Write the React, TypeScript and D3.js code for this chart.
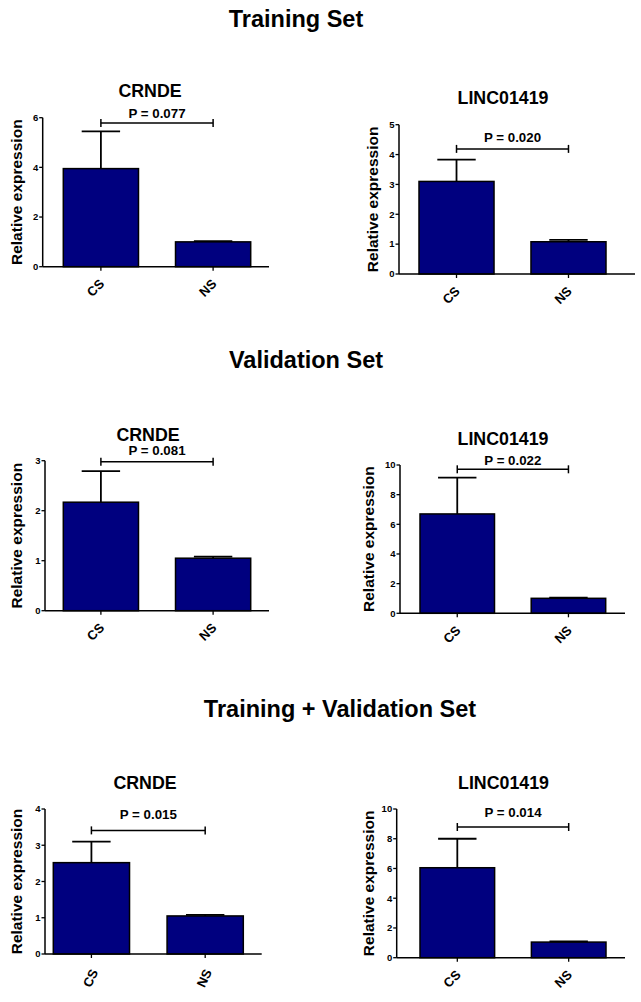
import React from "react";
import * as d3 from "d3";

const categories = ["CS", "NS"];

const sectionTitles = ["Training Set", "Validation Set", "Training + Validation Set"];
const geneNames = ["CRNDE", "LINC01419", "CRNDE", "LINC01419", "CRNDE", "LINC01419"];

// mean relative expression per panel [CS, NS]
const trainCRNDE = [3.95, 1.0];
const trainLINC = [3.1, 1.08];
const validCRNDE = [2.17, 1.05];
const validLINC = [6.7, 1.01];
const allCRNDE = [2.52, 1.05];
const allLINC = [6.05, 1.05];

// upper error (SEM) per panel [CS, NS]
const trainCRNDEErr = [1.5, 0.03];
const trainLINCErr = [0.73, 0.06];
const validCRNDEErr = [0.62, 0.03];
const validLINCErr = [2.45, 0.04];
const allCRNDEErr = [0.58, 0.03];
const allLINCErr = [1.95, 0.05];

const pValues = ["P = 0.077", "P = 0.020", "P = 0.081", "P = 0.022", "P = 0.015", "P = 0.014"];
// bracket level and p-label level in data units
const bracketLevels = [5.79, 4.19, 2.98, 9.71, 3.41, 8.79];
const pLabelLevels = [5.98, 4.42, 3.11, 10.0, 3.72, 9.48];

const yMax = [6, 5, 3, 10, 4, 10];
const yTickStep = [2, 1, 1, 2, 1, 2];

const means = [trainCRNDE, trainLINC, validCRNDE, validLINC, allCRNDE, allLINC];
const errs = [trainCRNDEErr, trainLINCErr, validCRNDEErr, validLINCErr, allCRNDEErr, allLINCErr];

// layout for each panel (pixels)
const layout = [
  { ax: 42.7, axEnd: 269, top: 117.7, bottom: 266.7, b0: 63.3, b1: 250.7, tx: 150, ty: 97, ylx: 22, rot: -45 },
  { ax: 399, axEnd: 635, top: 124.7, bottom: 274, b0: 419, b1: 606, tx: 503, ty: 104, ylx: 378.4, rot: -45 },
  { ax: 45, axEnd: 269, top: 460.7, bottom: 610.7, b0: 63.3, b1: 250.7, tx: 148, ty: 440.7, ylx: 21.7, rot: -45 },
  { ax: 400, axEnd: 625, top: 465, bottom: 613.3, b0: 420, b1: 605.7, tx: 503, ty: 445, ylx: 374, rot: -45 },
  { ax: 45, axEnd: 261.7, top: 809, bottom: 954, b0: 53.3, b1: 243.3, tx: 145, ty: 789, ylx: 21.7, rot: -65 },
  { ax: 396.7, axEnd: 625, top: 809, bottom: 957.7, b0: 420, b1: 606, tx: 503.5, ty: 789, ylx: 373.5, rot: -45 },
];

const sectionPos = [
  { x: 296, y: 27 },
  { x: 306, y: 368 },
  { x: 340, y: 717 },
];

const FONT = "'Liberation Sans', Arial, Helvetica, sans-serif";
const NAVY = "#00007f";

function Panel({ i }: { i: number }) {
  const L = layout[i];
  const y = d3.scaleLinear().domain([0, yMax[i]]).range([L.bottom, L.top]);
  const x = d3.scaleBand<string>().domain(categories).range([L.b0, L.b1]).paddingInner(0.33).paddingOuter(0);
  const ticks = d3.range(0, yMax[i] + 0.001, yTickStep[i]);
  const bw = x.bandwidth();
  const cx = (c: string) => (x(c) as number) + bw / 2;
  const capHalf = 19.2;
  const bY = y(bracketLevels[i]);
  const c0 = cx(categories[0]);
  const c1 = cx(categories[1]);
  const yMid = (L.top + L.bottom) / 2;
  const labOff = L.rot === -45 ? { dx: 4.2, dy: 18 } : { dx: 7, dy: 18 };
  return (
    <g fontFamily={FONT} fontWeight="bold">
      <text x={L.tx} y={L.ty} textAnchor="middle" fontSize={17.8}>{geneNames[i]}</text>
      {/* bars */}
      {categories.map((c, k) => (
        <rect key={c} x={x(c)} y={y(means[i][k])} width={bw} height={L.bottom - y(means[i][k])}
          fill={NAVY} stroke="#000" strokeWidth={1.5} />
      ))}
      {/* error bars (upper only) */}
      {categories.map((c, k) => {
        const top = y(means[i][k] + errs[i][k]);
        return (
          <g key={"e" + c} stroke="#000" strokeWidth={1.8}>
            <line x1={cx(c)} x2={cx(c)} y1={y(means[i][k])} y2={top} />
            <line x1={cx(c) - capHalf} x2={cx(c) + capHalf} y1={top} y2={top} />
          </g>
        );
      })}
      {/* y axis */}
      <line x1={L.ax} x2={L.ax} y1={L.top} y2={L.bottom} stroke="#000" strokeWidth={1.5} />
      {ticks.map((t) => (
        <g key={t}>
          <line x1={L.ax - 3.5} x2={L.ax} y1={y(t)} y2={y(t)} stroke="#000" strokeWidth={1.3} />
          <text x={L.ax - 4.5} y={y(t)} dy="0.35em" textAnchor="end" fontSize={9.5}>{t}</text>
        </g>
      ))}
      {/* x axis */}
      <line x1={L.ax} x2={L.axEnd} y1={L.bottom} y2={L.bottom} stroke="#000" strokeWidth={1.5} />
      {categories.map((c) => (
        <g key={"x" + c}>
          <line x1={cx(c)} x2={cx(c)} y1={L.bottom} y2={L.bottom + 4} stroke="#000" strokeWidth={1.3} />
          <text transform={`translate(${cx(c) + labOff.dx},${L.bottom + labOff.dy}) rotate(${L.rot})`}
            textAnchor="end" fontSize={13}>{c}</text>
        </g>
      ))}
      {/* y label */}
      <text transform={`translate(${L.ylx},${yMid}) rotate(-90)`} textAnchor="middle" fontSize={15.5}>
        Relative expression
      </text>
      {/* significance bracket */}
      <g stroke="#000" strokeWidth={1.5}>
        <line x1={c0} x2={c1} y1={bY} y2={bY} />
        <line x1={c0} x2={c0} y1={bY - 4} y2={bY + 4} />
        <line x1={c1} x2={c1} y1={bY - 4} y2={bY + 4} />
      </g>
      <text x={(c0 + c1) / 2} y={y(pLabelLevels[i])} textAnchor="middle" fontSize={13.3}>{pValues[i]}</text>
    </g>
  );
}

export default function App() {
  return (
    <svg width={641} height={1002} viewBox="0 0 641 1002"
      style={{ position: "absolute", left: 0, top: 0, background: "#fff" }}>
      <rect x={0} y={0} width={641} height={1002} fill="#fff" />
      {sectionTitles.map((s, k) => (
        <text key={s} x={sectionPos[k].x} y={sectionPos[k].y} textAnchor="middle"
          fontFamily={FONT} fontWeight="bold" fontSize={23.5}>{s}</text>
      ))}
      {d3.range(6).map((i) => <Panel key={i} i={i} />)}
    </svg>
  );
}
